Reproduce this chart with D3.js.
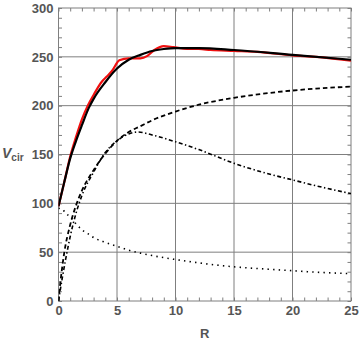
<!DOCTYPE html>
<html>
<head>
<meta charset="utf-8">
<script src="https://cdn.jsdelivr.net/npm/d3@7"></script>
<style>
  body { margin: 0; background: #fff; }
  svg text { font-family: "Liberation Sans", Arial, sans-serif; }
</style>
</head>
<body>
<svg id="chart" width="360" height="343"></svg>
<script>
// observed rotation curve (red)
const obsR = [0, 0.5, 1, 1.5, 2, 2.5, 3, 3.7, 4.1, 4.6, 5.2, 6, 7, 7.6, 8.2, 9, 9.8, 11, 12, 13, 15, 17, 20, 22, 25]
const obsV = [97, 122, 148, 168, 186, 200, 211, 224.5, 229.5, 236, 246.5, 248.5, 248.5, 251, 257, 261, 260, 258, 258, 257, 256, 255, 251.5, 250, 246]

// total model (black)
const totR = [0, 0.5, 1, 1.5, 2, 2.6, 3, 4, 5, 6, 7, 8, 9, 10, 12, 15, 20, 25]
const totV = [97, 122, 146, 164, 180, 198, 207, 224, 238, 247, 252, 256, 258, 259, 259, 257, 252, 247]

// halo (dashed)
const haloR = [0, 0.15, 0.3, 0.5, 1, 1.5, 2, 3, 4, 5, 6, 7, 8, 10, 12, 15, 18, 20, 22, 25]
const haloV = [0, 18, 33, 50, 78, 98, 113, 134, 151, 164, 173, 179, 185, 194, 201, 208, 213, 215.5, 217.5, 219.5]

// disk (dash-dot)
const diskR = [0, 0.3, 0.6, 1, 1.5, 2, 3, 4, 5, 6, 6.8, 8, 10, 12, 15, 18, 20, 22, 25]
const diskV = [0, 22, 42, 66, 90, 108, 132, 152, 164, 171, 173, 170, 163, 155, 141, 130, 124, 118, 110]

// bulge (dotted)
const bulgeR = [0, 0.3, 0.7, 1, 1.5, 2, 2.5, 3, 4, 5, 6, 7, 8, 10, 12, 15, 18, 20, 22, 25]
const bulgeV = [95, 94, 89, 86, 79, 73, 69, 65, 60, 56, 52, 49, 46.5, 42.5, 39, 35, 32.5, 31, 29.5, 28]

const xMajor = [0, 5, 10, 15, 20, 25]
const yMajor = [0, 50, 100, 150, 200, 250, 300]
const xMinor = d3.range(0, 26, 1)
const yMinor = d3.range(0, 301, 10)

const svg = d3.select("#chart")
const x = d3.scaleLinear().domain([0, 25]).range([58.5, 351])
const y = d3.scaleLinear().domain([0, 300]).range([301, 8])

const gray = "#7f7f7f"

// grid lines
svg.append("g")
    .selectAll("line.gx")
    .data(xMajor.slice(1, -1))
    .join("line")
    .attr("x1", d => x(d)).attr("x2", d => x(d))
    .attr("y1", y(0)).attr("y2", y(300))
    .attr("stroke", gray).attr("stroke-width", 1)
svg.append("g")
    .selectAll("line.gy")
    .data(yMajor.slice(1, -1))
    .join("line")
    .attr("x1", x(0)).attr("x2", x(25))
    .attr("y1", d => y(d)).attr("y2", d => y(d))
    .attr("stroke", gray).attr("stroke-width", 1)

// minor ticks on all four sides, pointing inward
const tickAxis = (axis, scale, vals, tx, ty) => {
    const g = svg.append("g")
        .attr("transform", `translate(${tx},${ty})`)
        .call(axis(scale).tickValues(vals).tickSize(-3.5).tickSizeOuter(0).tickFormat(""))
    g.select(".domain").remove()
    g.selectAll("line").attr("stroke", gray)
}
tickAxis(d3.axisBottom, x, xMinor, 0, y(0))
tickAxis(d3.axisTop, x, xMinor, 0, y(300))
tickAxis(d3.axisLeft, y, yMinor, x(0), 0)
tickAxis(d3.axisRight, y, yMinor, x(25), 0)

// frame
svg.append("rect")
    .attr("x", x(0)).attr("y", y(300))
    .attr("width", x(25) - x(0)).attr("height", y(0) - y(300))
    .attr("fill", "none").attr("stroke", gray).attr("stroke-width", 1)

// tick labels
const xl = svg.append("g")
    .attr("transform", `translate(0,${y(0)})`)
    .call(d3.axisBottom(x).tickValues(xMajor).tickSize(0).tickPadding(5))
xl.select(".domain").remove()
const yl = svg.append("g")
    .attr("transform", `translate(${x(0)},0)`)
    .call(d3.axisLeft(y).tickValues(yMajor).tickSize(0).tickPadding(5))
yl.select(".domain").remove()
svg.selectAll(".tick text")
    .attr("font-family", "Liberation Sans, Arial, sans-serif")
    .attr("font-size", 13).attr("font-weight", "bold").attr("fill", "#555")

// axis titles
svg.append("text")
    .attr("x", (x(0) + x(25)) / 2).attr("y", 338)
    .attr("text-anchor", "middle")
    .attr("font-size", 13).attr("font-weight", "bold").attr("fill", "#555")
    .text("R")
const vt = svg.append("text")
    .attr("x", 2).attr("y", 158)
    .attr("font-size", 14).attr("font-weight", "bold").attr("fill", "#555")
vt.append("tspan").attr("font-style", "italic").text("V")
vt.append("tspan").attr("font-size", 10).attr("dy", 3).text("cir")

// curves
svg.append("clipPath").attr("id", "clip")
    .append("rect")
    .attr("x", x(0)).attr("y", y(300))
    .attr("width", x(25) - x(0)).attr("height", y(0) - y(300))

const plot = svg.append("g").attr("clip-path", "url(#clip)")
const line = d3.line().x(d => x(d[0])).y(d => y(d[1])).curve(d3.curveMonotoneX)
const series = [
    { r: bulgeR, v: bulgeV, color: "#000", w: 1.6, dash: "1.4,4.2" },
    { r: diskR, v: diskV, color: "#000", w: 1.6, dash: "4,2.5,1.4,2.5" },
    { r: haloR, v: haloV, color: "#000", w: 1.8, dash: "4.5,3" },
    { r: obsR, v: obsV, color: "#f01010", w: 2.2, dash: null },
    { r: totR, v: totV, color: "#000", w: 2.2, dash: null }
]
series.forEach(s => {
    plot.append("path")
        .datum(d3.zip(s.r, s.v))
        .attr("d", line)
        .attr("fill", "none")
        .attr("stroke", s.color)
        .attr("stroke-width", s.w)
        .attr("stroke-dasharray", s.dash)
})
</script>
</body>
</html>
